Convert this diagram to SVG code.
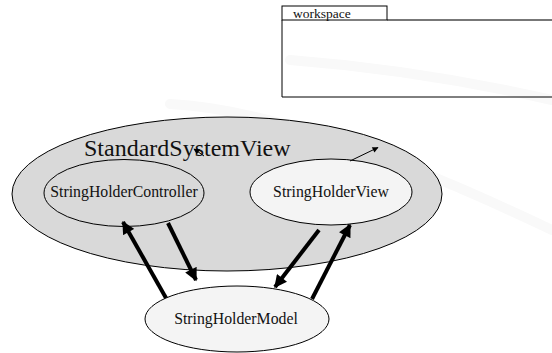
<svg xmlns="http://www.w3.org/2000/svg" width="552" height="353" viewBox="0 0 552 353">
  <defs>
    <marker id="head-thick" viewBox="0 0 10 10" refX="9" refY="5" markerWidth="3.4" markerHeight="3.2" orient="auto" markerUnits="strokeWidth">
      <path d="M0,0 L10,5 L0,10 Z" fill="#000"/>
    </marker>
    <marker id="head-thin" viewBox="0 0 10 10" refX="9" refY="5" markerWidth="7" markerHeight="6" orient="auto" markerUnits="strokeWidth">
      <path d="M0,0 L10,5 L0,10 Z" fill="#000"/>
    </marker>
    <style>
      .node { stroke: #000; stroke-width: 1; }
      .dark { fill: #d9d9d9; }
      .light { fill: #f4f4f4; }
      .flow { stroke: #000; stroke-width: 4; fill: none; marker-end: url(#head-thick); }
      .hint { stroke: #000; stroke-width: 1; fill: none; marker-end: url(#head-thin); }
      .swoosh { fill: none; stroke: #f9f9f9; stroke-width: 10; stroke-linecap: round; }
    </style>
  </defs>

  <rect width="552" height="353" fill="#fff"/>

  <!-- faint background bands -->
  <g id="backdrop">
    <path class="swoosh" d="M170,104 Q300,110 552,230"/>
    <path class="swoosh" d="M290,60 Q420,70 552,100"/>
  </g>

  <g font-family="'Liberation Serif', 'DejaVu Serif', serif" fill="#111">
    <!-- workspace window -->
    <g id="workspace">
      <line x1="387" y1="20" x2="552" y2="20" stroke="#777" stroke-width="2"/>
      <polyline points="282,20 282,97 552,97" fill="none" stroke="#000" stroke-width="1"/>
      <rect x="282" y="6" width="105" height="14" fill="#fff" stroke="#000" stroke-width="1"/>
      <text x="293" y="18" font-size="13.5">workspace</text>
    </g>

    <g id="StandardSystemView">
      <ellipse class="node dark" cx="227" cy="194" rx="215" ry="77"/>
      <text x="84" y="156" font-size="24">StandardSystemView</text>
    </g>

    <g id="StringHolderController">
      <ellipse class="node dark" cx="124" cy="193" rx="80" ry="33.5"/>
      <text x="124" y="197" font-size="15.8" text-anchor="middle">StringHolderController</text>
    </g>

    <g id="StringHolderView">
      <ellipse class="node light" cx="331" cy="192" rx="81" ry="33"/>
      <text x="331" y="197" font-size="15.8" text-anchor="middle">StringHolderView</text>
    </g>

    <g id="StringHolderModel">
      <ellipse class="node light" cx="237" cy="319" rx="92" ry="33"/>
      <text x="236" y="324" font-size="15.8" text-anchor="middle">StringHolderModel</text>
    </g>
  </g>

  <g id="connectors">
    <line class="flow" x1="166" y1="298" x2="123" y2="222"/>
    <line class="flow" x1="168" y1="223" x2="196" y2="280"/>
    <line class="flow" x1="319" y1="230" x2="275" y2="287"/>
    <line class="flow" x1="312" y1="299" x2="350" y2="225"/>
    <line class="hint" x1="350" y1="161" x2="378" y2="147.5"/>
    <line class="hint" x1="204" y1="156" x2="194" y2="149"/>
  </g>
</svg>
